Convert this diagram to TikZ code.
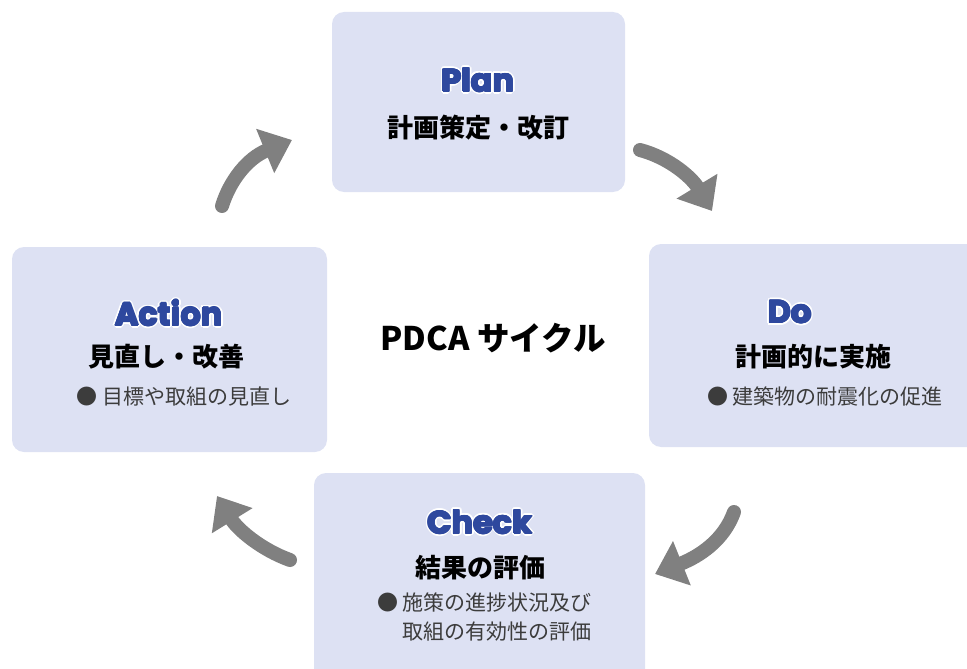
\documentclass[tikz,border=0pt]{standalone}
\usepackage{fontspec}
\setmainfont{Noto Sans CJK JP}
\newfontfamily\titlefont{Poppins}
\usetikzlibrary{arrows.meta,calc}
\definecolor{boxfill}{RGB}{221,225,243}
\definecolor{titleblue}{RGB}{46,72,158}
\definecolor{arrowgray}{RGB}{128,128,128}
\definecolor{subgray}{RGB}{60,60,60}
\tikzset{
  stagebox/.style={rectangle, rounded corners=12pt, fill=boxfill, inner sep=0pt},
  titletext/.style={font=\titlefont\bfseries\fontsize{32}{36}\selectfont, inner sep=0pt, text=titleblue},
  headtext/.style={font=\bfseries\fontsize{26}{30}\selectfont, inner sep=0pt},
  subtext/.style={font=\fontsize{21}{29}\selectfont, text=subgray, inner sep=0pt, align=left},
  cyclearrow/.style={draw=arrowgray, line width=14pt, line cap=round,
    -{Triangle[length=29pt,width=46pt]}},
}
\newcommand\glowtitle[3]{%
  \foreach \a in {0,30,...,330}{\node[titletext,text=white] at ($(#2)+(\a:2.4)$) {#3};}
  \foreach \a in {0,45,...,315}{\node[titletext] at ($(#2)+(\a:0.7)$) {#3};}
  \node[titletext] (#1) at (#2) {#3};}
\begin{document}
\begin{tikzpicture}[x=1pt,y=-1pt]
\useasboundingbox (0,0) rectangle (967,669);
\clip (0,0) rectangle (967,669);
% boxes
\node[stagebox, minimum width=293pt, minimum height=180pt] (plan) at (478.5,102) {};
\node[stagebox, minimum width=341pt, minimum height=203pt] (do) at (819.5,345.5) {};
\node[stagebox, minimum width=315pt, minimum height=205pt] (act) at (169.5,349.5) {};
\node[stagebox, minimum width=331pt, minimum height=227pt] (chk) at (479.5,586.5) {};
% titles
\coordinate (planT) at (478,80);
\coordinate (doT) at (790,312);
\coordinate (actT) at (169,313);
\coordinate (chkT) at (480,522);
\glowtitle{plantitle}{planT}{Plan}
\glowtitle{dotitle}{doT}{Do}
\glowtitle{acttitle}{actT}{Action}
\glowtitle{chktitle}{chkT}{Check}
% headings
\node[headtext] (planhead) at (478,128) {計画策定・改訂};
\node[headtext] (dohead) at (813,357) {計画的に実施};
\node[headtext] (acthead) at (166,357) {見直し・改善};
\node[headtext] (chkhead) at (480,568) {結果の評価};
% sub texts
\node[subtext] (dosub) at (825,396) {● 建築物の耐震化の促進};
\node[subtext] (actsub) at (184,397) {● 目標や取組の見直し};
\node[subtext, anchor=north west] (chksub) at (377,593) {● 施策の進捗状況及び\\\phantom{●\ }取組の有効性の評価};
% center
\node[font=\bfseries\fontsize{32.5}{36}\selectfont, inner sep=0pt] (center) at (493,338) {PDCA サイクル};
% arrows
\coordinate (a1s) at (222,206);
\coordinate (a1e) at (292,140);
\coordinate (a2s) at (640,150);
\coordinate (a2e) at (712,211);
\coordinate (a3s) at (734,512);
\coordinate (a3e) at (655,574);
\coordinate (a4s) at (290,560);
\coordinate (a4e) at (217,496);
\draw[cyclearrow] (a1s) .. controls (230,180) and (248,158) .. (a1e);
\draw[cyclearrow] (a2s) .. controls (670,158) and (692,178) .. (a2e);
\draw[cyclearrow] (a3s) .. controls (724,540) and (700,556) .. (a3e);
\draw[cyclearrow] (a4s) .. controls (262,550) and (238,530) .. (a4e);
\end{tikzpicture}
\end{document}
